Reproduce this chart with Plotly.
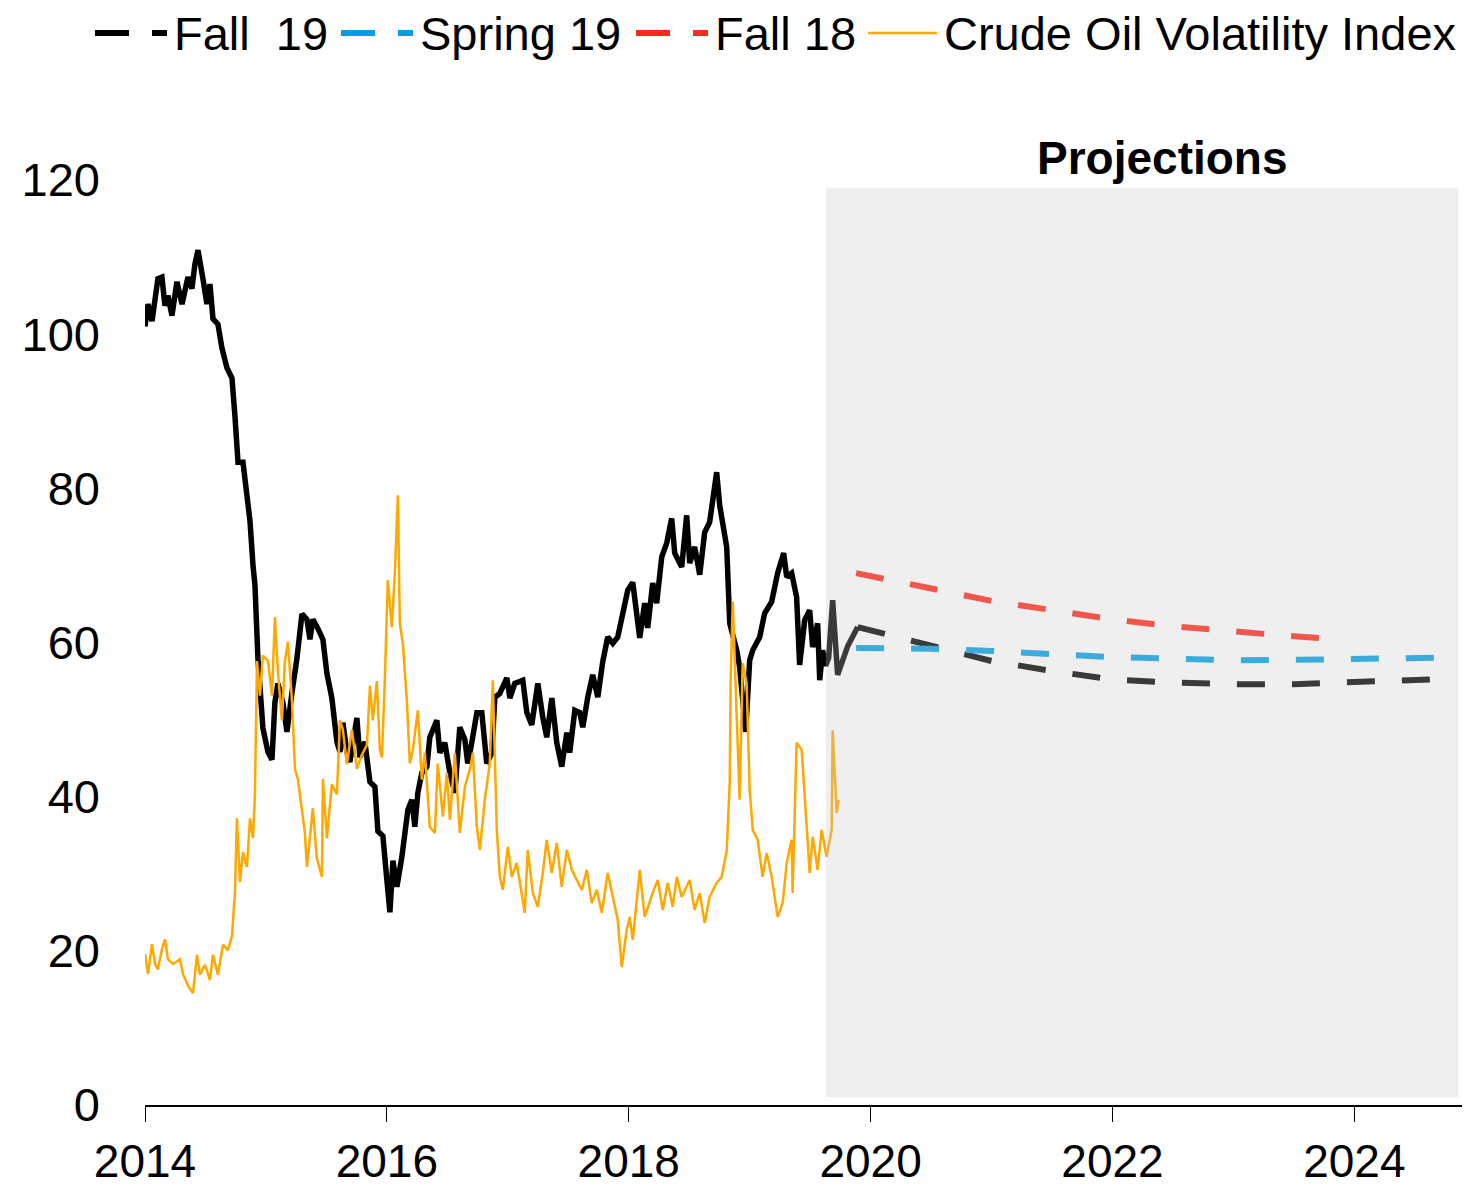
import plotly.graph_objects as go

# ---------------- data ----------------
# Crude oil price history (part of the "Fall 19" series), decimal years
hist_years = [2014.000, 2014.025, 2014.058, 2014.083, 2014.107, 2014.140, 2014.165, 2014.190, 2014.223, 2014.264,
              2014.306, 2014.355, 2014.388, 2014.413, 2014.438, 2014.479, 2014.512, 2014.537, 2014.562, 2014.603,
              2014.636, 2014.678, 2014.719, 2014.744, 2014.769, 2014.810, 2014.843, 2014.868, 2014.893, 2014.909,
              2014.934, 2014.975, 2015.017, 2015.050, 2015.074, 2015.099, 2015.140, 2015.174, 2015.215, 2015.256,
              2015.298, 2015.339, 2015.364, 2015.388, 2015.430, 2015.471, 2015.504, 2015.545, 2015.587, 2015.612,
              2015.636, 2015.669, 2015.694, 2015.752, 2015.777, 2015.818, 2015.860, 2015.901, 2015.926, 2015.967,
              2016.000, 2016.025, 2016.050, 2016.083, 2016.124, 2016.149, 2016.174, 2016.207, 2016.231, 2016.256,
              2016.289, 2016.331, 2016.355, 2016.413, 2016.438, 2016.479, 2016.521, 2016.562, 2016.603, 2016.645,
              2016.669, 2016.702, 2016.744, 2016.785, 2016.826, 2016.868, 2016.893, 2016.934, 2016.992, 2017.017,
              2017.058, 2017.124, 2017.157, 2017.198, 2017.248, 2017.289, 2017.322, 2017.364, 2017.405, 2017.446,
              2017.488, 2017.512, 2017.554, 2017.595, 2017.620, 2017.661, 2017.702, 2017.744, 2017.785, 2017.826,
              2017.868, 2017.909, 2017.950, 2017.992, 2018.033, 2018.091, 2018.132, 2018.157, 2018.198, 2018.231,
              2018.273, 2018.314, 2018.355, 2018.380, 2018.438, 2018.479, 2018.504, 2018.545, 2018.587, 2018.628,
              2018.669, 2018.727, 2018.752, 2018.810, 2018.835, 2018.893, 2018.917, 2018.967, 2019.000, 2019.025,
              2019.083, 2019.124, 2019.182, 2019.231, 2019.281, 2019.306, 2019.347, 2019.388, 2019.413, 2019.455,
              2019.496, 2019.521, 2019.562, 2019.579, 2019.603, 2019.628, 2019.653, 2019.686, 2019.727, 2019.810,
              2019.893]
hist_vals = [101.0, 103.9, 101.7, 104.6, 107.2, 107.4, 103.7, 105.0, 102.4, 106.8,
             103.9, 107.4, 105.9, 109.1, 110.9, 107.2, 103.9, 106.5, 102.0, 101.3,
             98.2, 95.6, 94.3, 89.3, 83.4, 83.4, 79.0, 75.8, 70.0, 67.5,
             57.9, 48.9, 45.8, 44.8, 52.2, 54.7, 52.2, 48.4, 53.5, 57.9,
             63.7, 63.0, 60.4, 63.0, 61.8, 60.4, 56.0, 52.8, 47.1, 45.8,
             49.6, 45.8, 44.5, 50.2, 45.1, 47.1, 41.9, 41.3, 35.5, 34.9,
             29.2, 25.0, 31.7, 28.3, 32.2, 35.7, 38.3, 39.6, 36.1, 40.5,
             43.1, 43.9, 47.7, 49.9, 45.7, 47.0, 43.1, 40.5, 49.0, 47.4,
             44.3, 47.0, 50.9, 50.9, 44.3, 45.7, 52.9, 53.4, 55.4, 52.8,
             54.7, 55.1, 50.9, 49.3, 54.7, 50.3, 47.7, 52.8, 47.0, 43.9,
             48.3, 45.7, 51.2, 50.9, 49.0, 52.9, 55.8, 52.9, 57.5, 60.7,
             59.9, 60.7, 63.8, 66.8, 67.8, 60.6, 65.1, 61.9, 67.7, 65.1,
             71.1, 72.9, 76.1, 71.6, 69.8, 76.5, 70.3, 72.4, 68.8, 74.3,
             75.6, 82.1, 77.8, 72.4, 62.5, 59.0, 56.8, 48.4, 57.7, 59.0,
             60.7, 63.8, 65.3, 69.0, 71.6, 68.5, 69.0, 65.9, 57.1, 62.9,
             64.2, 59.4, 62.5, 55.1, 59.0, 57.0, 58.0, 65.5, 55.8, 59.5,
             62.0]

# Crude Oil Volatility Index
ovx_years = [2014.000, 2014.025, 2014.058, 2014.083, 2014.107, 2014.140, 2014.165, 2014.190, 2014.231, 2014.289,
             2014.314, 2014.355, 2014.397, 2014.430, 2014.455, 2014.496, 2014.537, 2014.562, 2014.603, 2014.645,
             2014.686, 2014.719, 2014.744, 2014.760, 2014.785, 2014.810, 2014.843, 2014.868, 2014.893, 2014.909,
             2014.926, 2014.950, 2014.975, 2015.017, 2015.050, 2015.074, 2015.099, 2015.132, 2015.157, 2015.182,
             2015.215, 2015.240, 2015.264, 2015.298, 2015.322, 2015.339, 2015.364, 2015.388, 2015.421, 2015.463,
             2015.471, 2015.504, 2015.545, 2015.587, 2015.612, 2015.636, 2015.669, 2015.711, 2015.752, 2015.793,
             2015.835, 2015.860, 2015.884, 2015.917, 2015.942, 2015.959, 2015.983, 2016.008, 2016.041, 2016.066,
             2016.091, 2016.107, 2016.132, 2016.165, 2016.190, 2016.215, 2016.256, 2016.289, 2016.314, 2016.355,
             2016.397, 2016.421, 2016.463, 2016.496, 2016.521, 2016.562, 2016.603, 2016.645, 2016.686, 2016.711,
             2016.744, 2016.769, 2016.810, 2016.851, 2016.876, 2016.909, 2016.934, 2016.959, 2017.000, 2017.033,
             2017.074, 2017.116, 2017.140, 2017.165, 2017.207, 2017.248, 2017.289, 2017.322, 2017.364, 2017.405,
             2017.446, 2017.488, 2017.529, 2017.570, 2017.612, 2017.653, 2017.694, 2017.736, 2017.777, 2017.826,
             2017.868, 2017.909, 2017.942, 2017.983, 2018.008, 2018.033, 2018.091, 2018.132, 2018.198, 2018.240,
             2018.281, 2018.322, 2018.364, 2018.397, 2018.438, 2018.504, 2018.545, 2018.587, 2018.628, 2018.669,
             2018.727, 2018.769, 2018.810, 2018.835, 2018.843, 2018.860, 2018.893, 2018.917, 2018.942, 2018.975,
             2019.000, 2019.025, 2019.066, 2019.107, 2019.140, 2019.182, 2019.231, 2019.273, 2019.306, 2019.347,
             2019.355, 2019.388, 2019.430, 2019.455, 2019.496, 2019.521, 2019.562, 2019.595, 2019.636, 2019.678,
             2019.686, 2019.719, 2019.736]
ovx_vals = [19.6, 17.0, 20.9, 18.3, 17.6, 20.2, 21.5, 18.9, 18.3, 18.9,
            17.0, 15.5, 14.5, 19.5, 16.9, 18.2, 16.2, 19.5, 16.9, 20.8,
            20.1, 21.9, 27.6, 37.2, 28.9, 32.8, 30.9, 37.2, 34.6, 40.3,
            57.6, 53.1, 58.3, 57.6, 53.1, 63.3, 56.3, 49.9, 57.6, 60.1,
            52.5, 43.6, 42.3, 37.9, 35.3, 30.9, 34.6, 38.5, 32.0, 29.6,
            42.3, 34.6, 41.6, 40.3, 49.9, 48.7, 44.2, 48.7, 43.6, 45.4,
            46.7, 54.4, 49.9, 55.0, 46.1, 45.1, 55.1, 68.1, 62.0, 69.0,
            79.1, 62.5, 59.9, 52.5, 44.3, 46.1, 51.2, 42.2, 45.7, 36.1,
            35.3, 44.3, 37.4, 43.1, 37.0, 45.7, 35.3, 41.3, 43.5, 45.7,
            36.1, 33.1, 39.6, 44.3, 55.1, 35.7, 29.6, 27.9, 33.5, 29.6,
            31.4, 27.0, 24.9, 33.1, 27.5, 25.7, 30.1, 34.4, 30.1, 34.0,
            28.3, 33.1, 30.5, 29.2, 27.9, 30.5, 26.2, 27.9, 24.9, 30.1,
            27.0, 24.0, 17.9, 22.7, 24.4, 21.4, 30.5, 24.4, 27.5, 29.2,
            25.3, 28.8, 25.7, 29.6, 27.0, 29.2, 25.3, 27.5, 23.6, 27.0,
            28.8, 29.6, 33.0, 41.8, 55.5, 65.3, 50.3, 39.6, 57.3, 54.7,
            40.9, 35.7, 34.4, 29.6, 32.7, 29.6, 24.4, 26.2, 31.4, 34.4,
            27.5, 47.0, 46.1, 39.6, 30.1, 34.8, 30.5, 35.7, 32.2, 35.7,
            48.6, 37.9, 39.6]

# Projections
fall19_years = [2019.893, 2020.5, 2021.0, 2021.5, 2022.0, 2022.5, 2023.0, 2023.5, 2024.0, 2024.8]
fall19_vals = [62.0, 59.6, 57.6, 56.3, 55.2, 54.8, 54.6, 54.6, 54.8, 55.3]
spring19_years = [2019.88, 2020.5, 2021.0, 2021.5, 2022.0, 2022.5, 2023.0, 2023.5, 2024.0, 2024.8]
spring19_vals = [59.3, 59.2, 58.9, 58.5, 58.1, 57.9, 57.7, 57.75, 57.9, 58.05]
fall18_years = [2019.88, 2020.5, 2021.0, 2021.5, 2022.0, 2022.5, 2023.0, 2023.5, 2023.79]
fall18_vals = [69.0, 67.0, 65.4, 64.2, 63.0, 62.1, 61.4, 60.8, 60.5]

series_names = ["Fall\u00a0\u00a019", "Spring 19", "Fall 18", "Crude Oil Volatility Index"]
series_colors = ["#000000", "#009FE3", "#FF2A1A", "#FFA800"]

x_ticks = [2014, 2016, 2018, 2020, 2022, 2024]
y_ticks = [0, 20, 40, 60, 80, 100, 120]
proj_start, proj_end = 2019.63, 2024.86

# ---------------- layout constants ----------------
# The page body adds an 8px margin, so the figure is made 8px smaller
# and the plot area is placed so that it lands at screen px 145..1462 x 180..1105.
BODY = 8
SCR_L, SCR_R, SCR_T, SCR_B = 145, 1462, 180, 1105
W, H = 1480 - BODY, 1187 - BODY
ML, MT = SCR_L - BODY, SCR_T - BODY
MR, MB = W - (SCR_R - BODY), H - (SCR_B - BODY)
FONT = "Liberation Sans, Arial, sans-serif"
DASH = "28px,27px"


def px_x(sx):
    return (sx - SCR_L) / (SCR_R - SCR_L)


def px_y(sy):
    return (SCR_B - sy) / (SCR_B - SCR_T)


fig = go.Figure()
fig.add_trace(go.Scatter(x=hist_years, y=hist_vals, mode="lines", showlegend=False,
                         line=dict(color=series_colors[0], width=5.5)))
fig.add_trace(go.Scatter(x=fall19_years, y=fall19_vals, mode="lines", name=series_names[0], showlegend=False,
                         line=dict(color=series_colors[0], width=6, dash=DASH)))
fig.add_trace(go.Scatter(x=spring19_years, y=spring19_vals, mode="lines", name=series_names[1], showlegend=False,
                         line=dict(color=series_colors[1], width=6, dash=DASH)))
fig.add_trace(go.Scatter(x=fall18_years, y=fall18_vals, mode="lines", name=series_names[2], showlegend=False,
                         line=dict(color=series_colors[2], width=6, dash=DASH)))
fig.add_trace(go.Scatter(x=ovx_years, y=ovx_vals, mode="lines", name=series_names[3], showlegend=False,
                         line=dict(color=series_colors[3], width=2.5)))

# Projection shading (semi-transparent, drawn above the lines)
fig.add_shape(type="rect", xref="x", yref="y", x0=proj_start, x1=proj_end, y0=1, y1=119,
              fillcolor="rgba(200,200,200,0.29)", line=dict(width=0), layer="above")

fig.add_annotation(x=(proj_start + proj_end) / 2 + 0.17, y=px_y(158), xref="x", yref="paper",
                   text="<b>Projections</b>", showarrow=False, yanchor="middle",
                   font=dict(family=FONT, size=46, color="#000000"))

# Manual legend (symbol start px, symbol end px, text start px) in screen pixels
legend_slots = [(95, 167, 173), (341, 413, 419), (636, 708, 714), (868, 937, 943)]
LEG_Y = 33
for i, (s0, s1, t0) in enumerate(legend_slots):
    dashed = i < 3
    fig.add_shape(type="line", xref="paper", yref="paper", x0=px_x(s0), x1=px_x(s1),
                  y0=px_y(LEG_Y), y1=px_y(LEG_Y),
                  line=dict(color=series_colors[i], width=6 if dashed else 2.5,
                            dash="34px,23px" if dashed else "solid"))
    fig.add_annotation(x=px_x(t0), y=px_y(LEG_Y), xref="paper", yref="paper",
                       text=series_names[i], showarrow=False, xanchor="left", yanchor="middle",
                       borderpad=0, font=dict(family=FONT, size=47, color="#000000"))

fig.update_layout(
    width=W, height=H,
    margin=dict(l=ML, r=MR, t=MT, b=MB, autoexpand=False),
    paper_bgcolor="white", plot_bgcolor="white",
    font=dict(family=FONT, size=47, color="#000000"),
    showlegend=False,
    xaxis=dict(range=[2014, 2024.89], tickmode="array", tickvals=x_ticks,
               ticktext=[str(t) for t in x_ticks], showgrid=False, zeroline=False,
               showline=True, linecolor="#000000", linewidth=2,
               ticks="outside", ticklen=15, tickwidth=1, tickcolor="#000000",
               ticklabelstandoff=0, automargin=False, tickfont=dict(family=FONT, size=46)),
    yaxis=dict(range=[0, 120], tickmode="array", tickvals=y_ticks, showgrid=False,
               zeroline=False, showline=False, ticks="", ticklabelstandoff=44, automargin=False,
               tickfont=dict(family=FONT, size=47)),
)

fig.write_html("out.html")
